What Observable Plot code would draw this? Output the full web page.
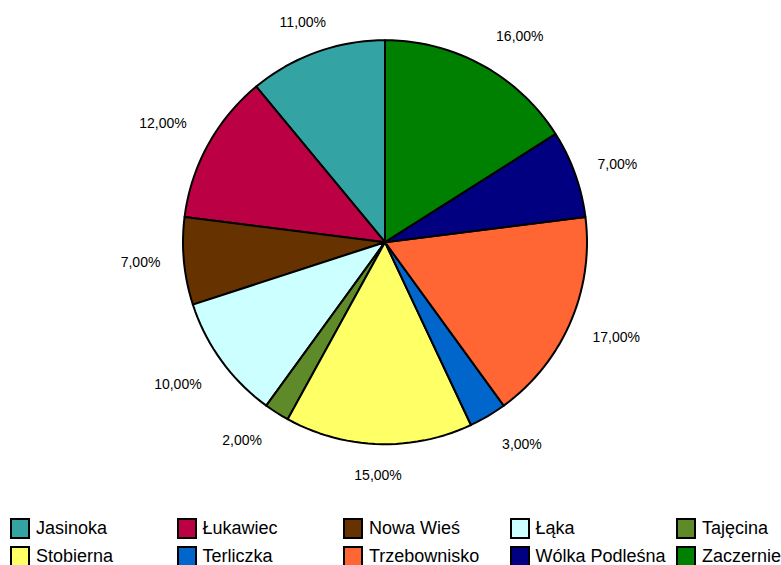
<!DOCTYPE html>
<html><head><meta charset="utf-8">
<script src="https://cdn.jsdelivr.net/npm/d3@7"></script>
<script src="https://cdn.jsdelivr.net/npm/@observablehq/plot@0.6"></script>
<style>
body{margin:0;background:#fff;font-family:"Liberation Sans",Arial,sans-serif;}
#wrap{position:relative;width:781px;height:565px;overflow:hidden;}
#legend{position:absolute;left:10px;top:518px;display:grid;grid-template-columns:repeat(5,166.5px);row-gap:7px;}
.item{display:flex;align-items:center;font-size:18px;height:21px;white-space:nowrap;color:#000;}
.sw{width:16px;height:17px;border:2px solid #000;margin-right:6px;flex:none;}
</style></head>
<body>
<div id="wrap"><div id="chart"></div><div id="legend"></div></div>
<script>
const names = ["Jasinoka","Łukawiec","Nowa Wieś","Łąka","Tajęcina","Stobierna","Terliczka","Trzebownisko","Wólka Podleśna","Zaczernie"];
const shares = [11,12,7,10,2,15,3,17,7,16];
const colors = ["#33A3A3","#BB0044","#663300","#CCFFFF","#5F8A2A","#FFFF66","#0066CC","#FF6633","#000080","#008000"];

const W = 781, H = 510, cx = 384.5, cy = 241.7, R = 202;
const fs = 14;
const total = d3.sum(shares);
const pts = [];
const labels = [];
const ramp = v => Math.max(0, Math.min(1, (v - 0.3) / 0.15));
let cum = 0;
names.forEach((name, i) => {
  // counterclockwise from 12 o'clock (angles clockwise-positive, degrees)
  const a0 = -cum / total * 360;
  const a1 = -(cum + shares[i]) / total * 360;
  cum += shares[i];
  pts.push({name, x: 0, y: 0});
  const n = Math.max(2, Math.ceil(Math.abs(a1 - a0) / 2));
  for (let k = 0; k <= n; k++) {
    const a = (a0 + (a1 - a0) * k / n) * Math.PI / 180;
    pts.push({name, x: R * Math.sin(a), y: -R * Math.cos(a)});
  }
  const m = (a0 + a1) / 2 * Math.PI / 180;
  const text = shares[i].toFixed(2).replace(".", ",") + "%";
  const halfW = fs * (0.556 * (text.length - 3) + 0.278 + 0.889) / 2;
  const ux = Math.sin(m), uy = -Math.cos(m);
  const G = R + 19;
  const ox = Math.sign(ux) * (halfW + 8.5) * ramp(Math.abs(ux));
  const oy = Math.sign(uy) * 12 * ramp(Math.abs(uy));
  labels.push({x: G * ux + ox, y: G * uy + oy, text});
});

const chart = Plot.plot({
  width: W, height: H, margin: 0,
  style: {fontFamily: "'Liberation Sans', Arial, sans-serif", background: "#fff"},
  x: {domain: [-cx, W - cx], range: [0, W], axis: null},
  y: {domain: [-cy, H - cy], range: [0, H], axis: null},
  color: {domain: names, range: colors},
  marks: [
    Plot.line(pts, {x: "x", y: "y", z: "name", fill: "name", stroke: "#000", strokeWidth: 2, strokeLinejoin: "round", curve: "linear-closed"}),
    Plot.text(labels, {x: "x", y: "y", text: "text", fontSize: fs, fill: "#000"})
  ]
});
document.getElementById("chart").appendChild(chart);

const legend = document.getElementById("legend");
names.forEach((name, i) => {
  const it = document.createElement("div");
  it.className = "item";
  const sw = document.createElement("span");
  sw.className = "sw";
  sw.style.background = colors[i];
  const t = document.createElement("span");
  t.textContent = name;
  it.appendChild(sw); it.appendChild(t);
  legend.appendChild(it);
});
</script>
</body></html>
